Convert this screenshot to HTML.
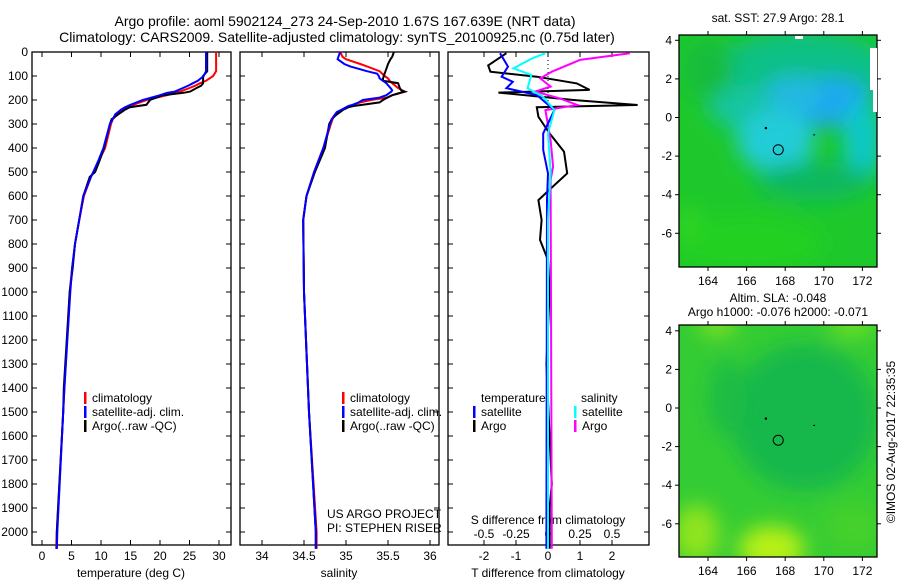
<!DOCTYPE html>
<html><head><meta charset="utf-8"><style>
html,body{margin:0;padding:0;background:#fff;}
svg{display:block;font-family:"Liberation Sans",sans-serif;}
</style></head><body>
<svg id="s" width="900" height="580" viewBox="0 0 900 580" xmlns="http://www.w3.org/2000/svg">
<defs>
<filter id="bl1" x="-50%" y="-50%" width="200%" height="200%"><feGaussianBlur stdDeviation="10"/></filter>
<clipPath id="c1"><rect x="679" y="35" width="198" height="232"/></clipPath>
<clipPath id="c2"><rect x="679" y="325" width="198" height="232"/></clipPath>
</defs>
<text x="345" y="26" font-size="14" text-anchor="middle">Argo profile: aoml 5902124_273 24-Sep-2010 1.67S 167.639E (NRT data)</text>
<text x="337" y="42" font-size="14" text-anchor="middle">Climatology: CARS2009. Satellite-adjusted climatology: synTS_20100925.nc (0.75d later)</text>
<g id="g"></g>
</svg>
<script>
// ---- data ----
const tDepth = [0,80,100,120,130,140,150,165,170,180,200,220,230,240,260,280,300,400,450,500,520,600,700,800,900,1000,1400,1500,2000,2070];
const tClim  = [29.5,29.5,29,27.8,26.8,26,25,23.4,22.6,21.2,17.7,15.5,14.3,13.6,12.8,12,11.7,10.7,9.7,8.7,8.3,7.1,6.3,5.6,5.1,4.7,3.8,3.6,2.5,2.4];
const tSat   = [27.8,27.8,27.4,26.4,25.6,24.8,23.9,22.5,21.2,20,17.1,15,14.1,13.4,12.4,12,11.5,10.4,9.6,8.7,8.3,7,6.3,5.6,5.1,4.8,3.8,3.6,2.6,2.5];
const tArgo  = [28,28,27.3,27.3,27.3,27,26.2,25.1,24,20.5,18.3,17.7,14.9,14.1,12.9,11.8,11.5,10.5,9.8,9,8.1,7,6.3,5.6,5.2,4.7,3.7,3.6,2.5,2.5];
const sDepth = [0,20,30,50,60,80,90,100,110,120,130,150,160,165,175,180,190,200,210,220,225,230,240,250,260,270,280,300,400,500,600,700,1000,1500,2000,2070];
const sClim  = [34.93,34.96,35.0,35.17,35.25,35.4,35.43,35.46,35.5,35.52,35.55,35.62,35.67,35.7,35.6,35.55,35.49,35.3,35.17,35.08,35.05,35.01,34.95,34.9,34.87,34.85,34.84,34.82,34.73,34.62,34.53,34.49,34.5,34.56,34.65,34.65];
const sSat   = [34.93,34.91,34.9,34.98,35.05,35.25,35.37,35.39,35.40,35.44,35.48,35.53,35.55,35.54,35.5,35.48,35.4,35.2,35.15,35.08,35.03,35.0,34.95,34.89,34.87,34.85,34.83,34.81,34.73,34.62,34.53,34.49,34.5,34.56,34.64,34.64];
const sArgo  = [35.57,35.55,35.53,35.50,35.49,35.47,35.46,35.45,35.44,35.44,35.62,35.64,35.66,35.70,35.6,35.55,35.49,35.44,35.40,35.2,35.09,35.03,34.97,34.93,34.89,34.86,34.83,34.80,34.75,34.63,34.53,34.49,34.50,34.56,34.64,34.64];
const dTDepth = [5,56,82,103,131,158,169,200,221,230,270,339,415,506,561,617,700,783,867,1000,1300,1600,1750,1800,1900,2070];
const dTArgo  = [-1.3,-1.87,-1.8,-0.35,0.9,1.3,-1.55,0.8,2.8,-0.35,-0.3,0.05,0.5,0.6,0.15,-0.3,-0.2,-0.25,0,0.05,-0.05,0.05,0.1,0.12,0.05,0.05];
const dTSatD  = [5,61,103,124,151,179,242,339,408,506,617,2070];
const dTSat   = [-1.5,-1.25,-1.45,-1.1,-1.3,-0.35,0.2,-0.15,-0.15,0,-0.03,-0.05];
const dSDepth = [5,26,68,96,151,186,242,339,500,700,2070];
const dSSat   = [-0.02,-0.12,-0.27,-0.13,-0.16,-0.04,0.05,0,0.02,0,0];
const dSArgoD = [5,33,82,110,144,165,193,221,242,367,478,533,2070];
const dSArgo  = [0.64,0.25,0.03,-0.06,0.02,-0.1,0.09,0.23,-0.02,0.02,0.04,0.02,0.03];
const depthTicks = [0,100,200,300,400,500,600,700,800,900,1000,1100,1200,1300,1400,1500,1600,1700,1800,1900,2000];
const tTicks = [0,5,10,15,20,25,30];
const sTicks = [34,34.5,35,35.5,36];
const dTTicks = [-2,-1,0,1,2];
const dSTickLabels = ['-0.5','-0.25','0','0.25','0.5'];
const lonTicks = [164,166,168,170,172];
const latTicks = [4,2,0,-2,-4,-6];

// ---- scales ----
const NS='http://www.w3.org/2000/svg';
const g=document.getElementById('g');
const Y=d=>52+d*0.24;
const xT=v=>42+v*5.9;
const xS=v=>262+(v-34)*84;
const xD=v=>548+v*32;
const xDS=v=>548+v*128;
const lonX=v=>708+(v-164)*19.3;
const latY1=v=>117.5-v*19.3;
const latY2=v=>408-v*19.3;
function el(t,a,p){const e=document.createElementNS(NS,t);for(const k in a)e.setAttribute(k,a[k]);(p||g).appendChild(e);return e;}
function line(xs,ds,xf,col,name,w){
  const pts=xs.map((v,i)=>xf(v).toFixed(1)+','+Y(ds[i]).toFixed(1)).join(' ');
  const e=el('polyline',{points:pts,fill:'none',stroke:col,'stroke-width':w||2});
  
  
}
function txt(x,y,s,anchor,size,name){
  const e=el('text',{x:x,y:y,'font-size':size||12,'text-anchor':anchor||'start'});
  e.textContent=s;
  
  
  return e;
}
function panel(x0,x1,name){
  const r=el('rect',{x:x0,y:52,width:x1-x0,height:493,fill:'none',stroke:'#000','stroke-width':1.3});
  
  
  depthTicks.forEach(d=>{el('line',{x1:x0,x2:x0+5,y1:Y(d),y2:Y(d),stroke:'#000'});el('line',{x1:x1-5,x2:x1,y1:Y(d),y2:Y(d),stroke:'#000'});});
}
panel(32,231,'temperature-panel');
panel(240,439,'salinity-panel');
panel(448,649,'difference-panel');
depthTicks.forEach(d=>txt(28,Y(d)+4,String(d),'end',12,'depth-tick-label'));
tTicks.forEach(v=>{el('line',{x1:xT(v),x2:xT(v),y1:545,y2:540,stroke:'#000'});el('line',{x1:xT(v),x2:xT(v),y1:52,y2:57,stroke:'#000'});txt(xT(v),560,String(v),'middle',12,'temperature-tick-label');});
sTicks.forEach(v=>{el('line',{x1:xS(v),x2:xS(v),y1:545,y2:540,stroke:'#000'});el('line',{x1:xS(v),x2:xS(v),y1:52,y2:57,stroke:'#000'});txt(xS(v),560,String(v),'middle',12,'salinity-tick-label');});
dTTicks.forEach(v=>{el('line',{x1:xD(v),x2:xD(v),y1:545,y2:540,stroke:'#000'});el('line',{x1:xD(v),x2:xD(v),y1:52,y2:57,stroke:'#000'});txt(xD(v),560,String(v),'middle',12,'t-difference-tick-label');});
dSTickLabels.forEach((s,i)=>txt(xD(dTTicks[i]),538,s,'middle',12,'s-difference-tick-label'));
txt(131,577,'temperature (deg C)','middle',12,'temperature-axis-title');
txt(339,577,'salinity','middle',12,'salinity-axis-title');
txt(548,577,'T difference from climatology','middle',12,'t-difference-axis-title');
txt(548,524,'S difference from climatology','middle',12,'s-difference-axis-title');
el('line',{x1:548,x2:548,y1:52,y2:110,stroke:'#000','stroke-dasharray':'1,3'});
line(tClim,tDepth,xT,'#ff0000','temperature-climatology-line');
line(tArgo,tDepth,xT,'#000','temperature-argo-line');
line(tSat,tDepth,xT,'#0000ff','temperature-satellite-line');
line(sClim,sDepth,xS,'#ff0000','salinity-climatology-line');
line(sArgo,sDepth,xS,'#000','salinity-argo-line');
line(sSat,sDepth,xS,'#0000ff','salinity-satellite-line');
line(dTArgo,dTDepth,xD,'#000','t-diff-argo-line');
line(dSArgo,dSArgoD,xDS,'#ff00ff','s-diff-argo-line');
line(dTSat,dTSatD,xD,'#0000ff','t-diff-satellite-line');
line(dSSat,dSDepth,xDS,'#00ffff','s-diff-satellite-line');
function leg(x,y,col,s,name){el('rect',{x:x,y:y-10,width:2.5,height:12,fill:col});txt(x+8,y,s,'start',12,name);}
leg(84,402,'#ff0000','climatology','legend-climatology');
leg(84,416,'#0000ff','satellite-adj. clim.','legend-satellite');
leg(84,430,'#000','Argo(..raw -QC)','legend-argo');
leg(342,402,'#ff0000','climatology','legend2-climatology');
leg(342,416,'#0000ff','satellite-adj. clim.','legend2-satellite');
leg(342,430,'#000','Argo(..raw -QC)','legend2-argo');
txt(481,402,'temperature','start',12,'legend-temperature-header');
txt(581,402,'salinity','start',12,'legend-salinity-header');
leg(473,416,'#0000ff','satellite','legend-t-satellite');
leg(473,430,'#000','Argo','legend-t-argo');
leg(574,416,'#00ffff','satellite','legend-s-satellite');
leg(574,430,'#ff00ff','Argo','legend-s-argo');
txt(327,518,'US ARGO PROJECT','start',12,'project-label');
txt(327,532,'PI: STEPHEN RISER','start',12,'pi-label');
function map(top,latY,clip,blobs,name){
  const grp=el('g',{'clip-path':'url(#'+clip+')'});
  
  
  el('rect',{x:679,y:top,width:198,height:232,fill:blobs[0]},grp);
  const b=el('g',{filter:'url(#bl1)'},grp);
  blobs.slice(1).forEach(o=>el('ellipse',{cx:lonX(o[0]),cy:latY(o[1]),rx:o[2]*19.3,ry:o[3]*19.3,fill:o[4]},b));
  el('rect',{x:679,y:top,width:198,height:232,fill:'none',stroke:'#000','stroke-width':1.3});
  lonTicks.forEach(v=>{el('line',{x1:lonX(v),x2:lonX(v),y1:top,y2:top-4,stroke:'#000'});el('line',{x1:lonX(v),x2:lonX(v),y1:top+232,y2:top+236,stroke:'#000'});txt(lonX(v),top+250,String(v),'middle',12,'longitude-tick-label');});
  latTicks.forEach(v=>{el('line',{x1:679,x2:675,y1:latY(v),y2:latY(v),stroke:'#000'});el('line',{x1:877,x2:881,y1:latY(v),y2:latY(v),stroke:'#000'});txt(672,latY(v)+4,String(v),'end',12,'latitude-tick-label');});
}
map(35,latY1,'c1',['#1ec82c',
 [169,2.5,4.5,2,'#10c084'],[166.5,0.5,2.5,1.2,'#14c4a0'],[170.3,0.8,2.3,1.3,'#1aa8f0'],[168.5,1.2,1.5,1,'#20b8e0'],[167.5,-1.2,2,1.6,'#20ccd8'],
 [172,-1.2,1,2.2,'#10c8c8'],[169.5,-3.3,3,1,'#10b860'],[164,2.5,1.3,1.5,'#18bc3c'],[166,-6.5,4,1.5,'#24d020'],[163,-5.5,0.6,1,'#30d420']],'sst-map');
map(325,latY2,'c2',['#34cc34',
 [169,-0.5,3.8,3.8,'#18b84c'],[165,0.5,1,2,'#1cbc44'],[167.3,-7.3,1.7,1.2,'#b8f018'],[163.4,-6.5,1.2,1.5,'#90e41c'],[164.5,4.3,1,0.6,'#80e020'],[171.5,4.3,1.2,0.6,'#70e020'],[171.5,-6.2,1.5,1.3,'#44d02c']],'sla-map');
el('rect',{x:795,y:36,width:8,height:3,fill:'#fff'});
el('rect',{x:870,y:48,width:7,height:42,fill:'#fff'});
el('rect',{x:873,y:90,width:4,height:22,fill:'#fff'});
[[latY1],[latY2]].forEach(a=>{const f=a[0];
 el('circle',{cx:lonX(167),cy:f(-0.55),r:1.2,fill:'#000'});
 el('rect',{x:lonX(169.5)-1,y:f(-0.9)-0.5,width:2,height:1,fill:'#000'});
 const c=el('circle',{cx:lonX(167.64),cy:f(-1.67),r:5,fill:'none',stroke:'#000','stroke-width':1});
 
 
});
txt(778,22,'sat. SST: 27.9 Argo: 28.1','middle',12,'sst-map-title');
txt(778,302,'Altim. SLA: -0.048','middle',12,'sla-map-title');
txt(778,316,'Argo h1000: -0.076 h2000: -0.071','middle',12,'sla-map-subtitle');
const cr=txt(0,0,'©IMOS 02-Aug-2017 22:35:35','middle',12,'imos-credit');
cr.setAttribute('transform','translate(895,442) rotate(-90)');
</script>
</body></html>
